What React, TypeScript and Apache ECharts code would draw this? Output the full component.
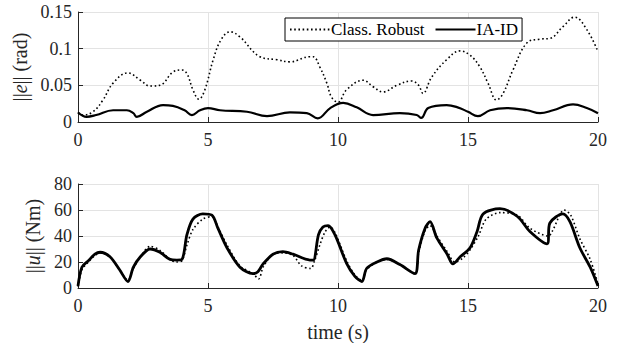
import React, { useEffect, useRef } from "react";
import * as echarts from "echarts";

// Top plot: tracking error norm ||e|| (rad)
const robustErrT = [0, 0.2, 0.58, 0.96, 1.35, 1.92, 2.4, 2.77, 3.15, 3.65, 4.0, 4.19, 4.42, 4.65, 4.88, 5.2, 5.5, 5.85, 6.23, 7.0, 7.65, 8.15, 8.92, 9.05, 9.3, 9.57, 9.75, 10.0, 10.33, 10.97, 11.35, 11.73, 12.26, 12.84, 13.1, 13.27, 13.6, 14.18, 14.7, 15.08, 15.46, 15.77, 16.1, 16.35, 16.73, 17.27, 17.77, 18.15, 18.65, 19.1, 19.57, 20];
const robustErrV = [0.013, 0.0095, 0.014, 0.03, 0.053, 0.067, 0.057, 0.049, 0.05, 0.068, 0.071, 0.066, 0.044, 0.031, 0.044, 0.085, 0.112, 0.123, 0.116, 0.089, 0.085, 0.082, 0.089, 0.089, 0.075, 0.053, 0.034, 0.027, 0.044, 0.057, 0.048, 0.041, 0.05, 0.056, 0.05, 0.039, 0.061, 0.085, 0.097, 0.091, 0.075, 0.053, 0.03, 0.039, 0.071, 0.108, 0.113, 0.114, 0.13, 0.143, 0.126, 0.096];
const iaidErrT = [0, 0.33, 0.7, 1.35, 1.88, 2.13, 2.26, 2.65, 3.27, 3.65, 4.1, 4.38, 4.69, 5.0, 5.46, 6.5, 7.27, 8.15, 8.8, 9.22, 9.7, 10.2, 10.72, 11.35, 12.38, 13.03, 13.2, 13.47, 14.18, 14.6, 15.0, 15.38, 15.85, 16.5, 17.27, 17.77, 18.27, 19.04, 19.57, 20];
const iaidErrV = [0.013, 0.007, 0.0095, 0.016, 0.016, 0.012, 0.007, 0.014, 0.023, 0.022, 0.016, 0.0095, 0.016, 0.019, 0.016, 0.014, 0.008, 0.013, 0.012, 0.005, 0.019, 0.026, 0.02, 0.0095, 0.012, 0.0095, 0.0055, 0.019, 0.023, 0.02, 0.014, 0.008, 0.016, 0.019, 0.016, 0.012, 0.016, 0.024, 0.019, 0.012];

// Bottom plot: control torque norm ||u|| (Nm)
const robustTauT = [0, 0.15, 0.4, 0.65, 0.85, 1.23, 1.6, 1.92, 2.13, 2.4, 2.77, 3.15, 3.54, 3.8, 4.0, 4.19, 4.42, 4.8, 5.15, 5.38, 5.73, 6.23, 6.73, 6.95, 7.12, 7.5, 7.88, 8.27, 8.6, 8.95, 9.1, 9.3, 9.5, 9.7, 9.9, 10.33, 10.65, 10.92, 11.1, 11.5, 11.88, 12.38, 12.96, 13.1, 13.35, 13.54, 13.8, 14.2, 14.5, 14.8, 15.1, 15.4, 15.7, 16.23, 16.9, 17.38, 18.1, 18.25, 18.7, 18.95, 19.3, 19.7, 20];
const robustTauV = [1, 14, 20, 25, 27, 24, 14, 6, 15, 24, 32, 29, 22, 20, 21, 33, 45, 53, 55, 47, 33, 17, 11, 7, 16, 26, 27, 25, 17, 15, 21, 33, 43, 47, 42, 21, 10, 6, 14, 20, 22, 18, 11, 27, 44, 48, 40, 28, 20, 23, 30, 40, 53, 58, 56, 46, 40, 44, 60, 56, 38, 22, 3];
const iaidTauT = [0, 0.15, 0.4, 0.65, 0.85, 1.23, 1.6, 1.92, 2.13, 2.4, 2.77, 3.15, 3.54, 3.8, 4.0, 4.19, 4.42, 4.8, 5.15, 5.38, 5.73, 6.23, 6.73, 6.92, 7.12, 7.5, 7.88, 8.27, 8.92, 9.05, 9.25, 9.42, 9.62, 9.88, 10.33, 10.65, 10.92, 11.1, 11.5, 11.88, 12.38, 12.96, 13.1, 13.35, 13.54, 13.8, 14.2, 14.42, 14.7, 15.08, 15.35, 15.58, 16.23, 16.9, 17.38, 18.04, 18.15, 18.65, 18.92, 19.3, 19.7, 20];
const iaidTauV = [1.5, 16, 21, 26, 27.5, 24, 14, 5, 16, 24, 30, 27.5, 22, 21.5, 22, 41, 53, 57, 56, 46, 31, 16, 11, 12.5, 18.5, 26, 28, 26, 21.5, 21.5, 41, 47, 48, 41, 19, 9, 5, 15, 20, 22.5, 18, 11, 29, 46, 51, 38.5, 26, 18.5, 24, 31, 43.5, 57, 61, 55, 43.5, 34, 50, 57, 51, 31, 16, 1.5];

const xTicks = [0, 5, 10, 15, 20];
const seriesNames = ["Class. Robust", "IA-ID"];

const FONT = "'Liberation Serif', 'DejaVu Serif', serif";
const AX = "#262626";
const GRIDC = "#e3e3e3";

const pairs = (t: number[], v: number[]) => t.map((x, i) => [x, v[i]]);

export default function App() {
  const ref = useRef<HTMLDivElement>(null);
  useEffect(() => {
    if (!ref.current) return;
    const chart = echarts.init(ref.current, undefined, { renderer: "svg" });
    const xAxisBase = (gridIndex: number, name: string) => ({
      type: "value" as const,
      gridIndex,
      min: xTicks[0],
      max: xTicks[xTicks.length - 1],
      interval: 5,
      name,
      nameLocation: "middle" as const,
      nameGap: 34,
      nameTextStyle: { fontFamily: FONT, fontSize: 20, color: AX },
      axisLine: { show: true, lineStyle: { color: AX, width: 1 } },
      axisTick: { show: true, inside: true, length: 5, lineStyle: { color: AX } },
      axisLabel: { fontFamily: FONT, fontSize: 18, color: AX, margin: 9 },
      splitLine: { show: true, lineStyle: { color: GRIDC, width: 1 } },
    });
    const yAxisBase = (gridIndex: number) => ({
      type: "value" as const,
      gridIndex,
      nameLocation: "middle" as const,
      axisLine: { show: true, lineStyle: { color: AX, width: 1 } },
      axisTick: { show: true, inside: true, length: 5, lineStyle: { color: AX } },
      axisLabel: { fontFamily: FONT, fontSize: 18, color: AX, margin: 6 },
      splitLine: { show: true, lineStyle: { color: GRIDC, width: 1 } },
    });
    const dotted = { color: "#000", width: 1.6, type: [1.6, 2.6] as number[] };
    const solid = { color: "#000", width: 2.2, type: "solid" as const };
    chart.setOption({
      animation: false,
      backgroundColor: "#fff",
      grid: [
        { left: 78, right: 26, top: 12, height: 110 },
        { left: 78, right: 26, top: 184, height: 108 },
      ],
      legend: {
        data: seriesNames,
        left: 285,
        top: 18,
        orient: "horizontal",
        borderColor: "#000",
        borderWidth: 1,
        borderRadius: 0,
        padding: [3, 4, 3, 4],
        itemWidth: 40,
        itemHeight: 10,
        itemGap: 10,
        itemStyle: { opacity: 0 },
        backgroundColor: "#fff",
        textStyle: { fontFamily: FONT, fontSize: 17, color: "#000", padding: [0, 0, 0, -4] },
      },
      xAxis: [xAxisBase(0, ""), xAxisBase(1, "time (s)")],
      yAxis: [
        {
          ...yAxisBase(0),
          min: 0,
          max: 0.15,
          interval: 0.05,
          name: "||{i|e}|| (rad)",
          nameGap: 48,
          nameTextStyle: {
            fontFamily: FONT,
            fontSize: 20,
            color: AX,
            rich: { i: { fontFamily: FONT, fontSize: 20, fontStyle: "italic", color: AX } },
          },
        },
        {
          ...yAxisBase(1),
          min: 0,
          max: 80,
          interval: 20,
          name: "||{i|u}|| (Nm)",
          nameGap: 32,
          nameTextStyle: {
            fontFamily: FONT,
            fontSize: 20,
            color: AX,
            rich: { i: { fontFamily: FONT, fontSize: 20, fontStyle: "italic", color: AX } },
          },
        },
      ],
      series: [
        {
          name: seriesNames[0],
          type: "line",
          xAxisIndex: 0,
          yAxisIndex: 0,
          data: pairs(robustErrT, robustErrV),
          smooth: 0.4,
          showSymbol: false,
          symbol: "none",
          lineStyle: dotted,
          itemStyle: { color: "#000" },
          z: 2,
        },
        {
          name: seriesNames[1],
          type: "line",
          xAxisIndex: 0,
          yAxisIndex: 0,
          data: pairs(iaidErrT, iaidErrV),
          smooth: 0.4,
          showSymbol: false,
          symbol: "none",
          lineStyle: solid,
          itemStyle: { color: "#000" },
          z: 3,
        },
        {
          name: seriesNames[0],
          type: "line",
          xAxisIndex: 1,
          yAxisIndex: 1,
          data: pairs(robustTauT, robustTauV),
          smooth: 0.3,
          showSymbol: false,
          symbol: "none",
          lineStyle: dotted,
          itemStyle: { color: "#000" },
          z: 2,
        },
        {
          name: seriesNames[1],
          type: "line",
          xAxisIndex: 1,
          yAxisIndex: 1,
          data: pairs(iaidTauT, iaidTauV),
          smooth: 0.3,
          showSymbol: false,
          symbol: "none",
          lineStyle: { ...solid, width: 2.8 },
          itemStyle: { color: "#000" },
          z: 3,
        },
      ],
    });
    return () => chart.dispose();
  }, []);
  return (
    <div
      ref={ref}
      style={{ position: "fixed", left: 0, top: 0, width: 624, height: 343, background: "#fff" }}
    />
  );
}
